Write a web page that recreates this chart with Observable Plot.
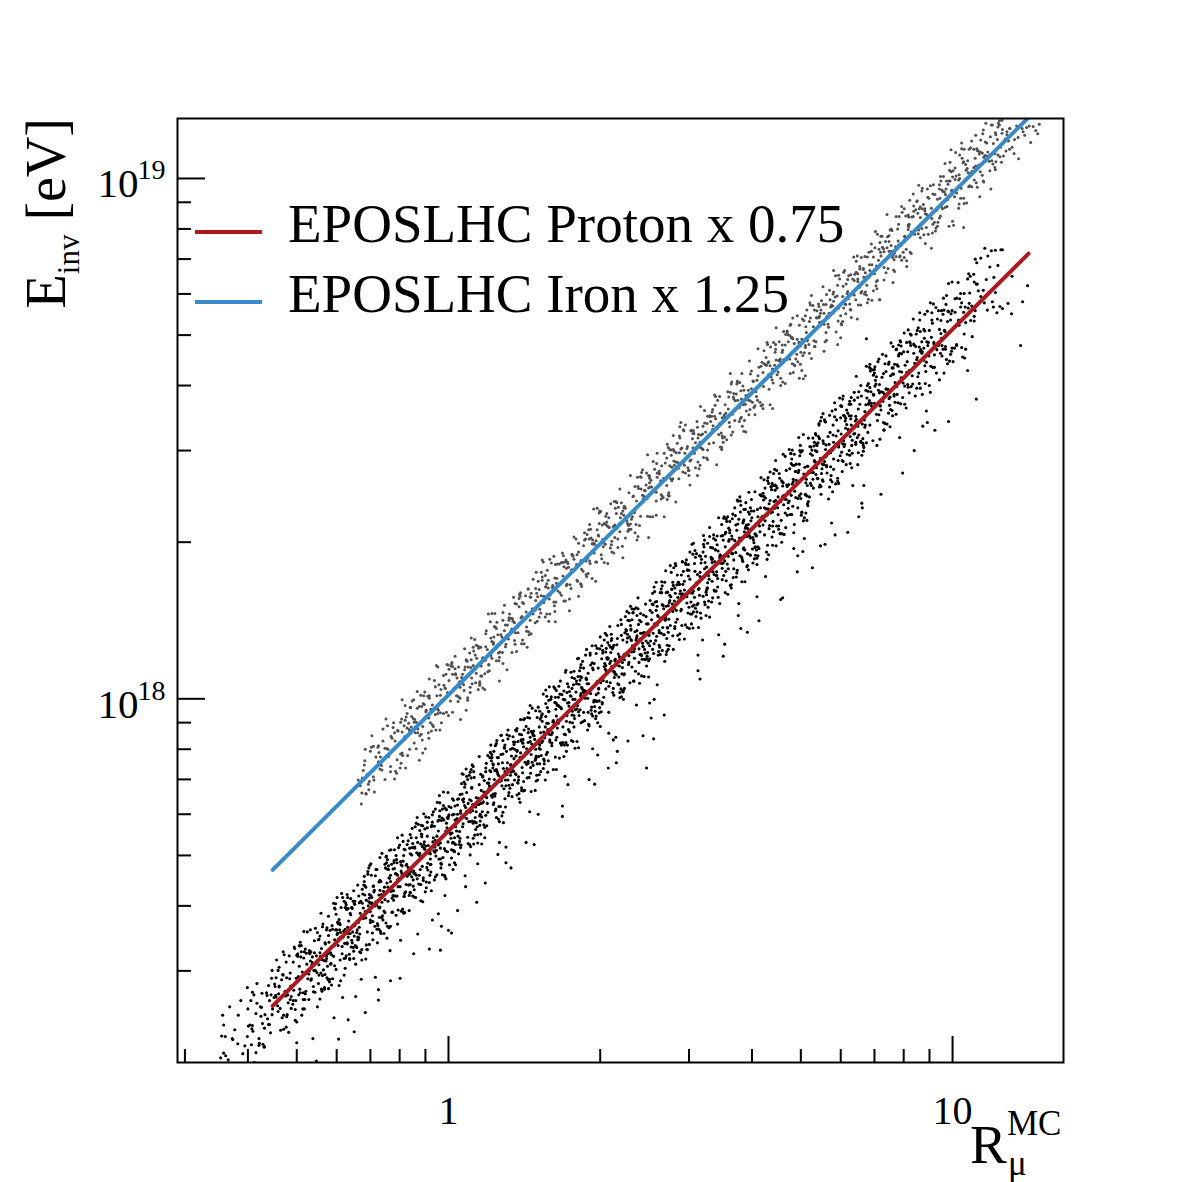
<!DOCTYPE html>
<html><head><meta charset="utf-8">
<script src="https://cdn.jsdelivr.net/npm/d3@7"></script>
<script src="https://cdn.jsdelivr.net/npm/@observablehq/plot@0.6"></script>
<style>
html,body{margin:0;padding:0;background:#fff;}
#chart{position:relative;width:1182px;height:1182px;}
</style></head><body><div id="chart"></div>
<script>
// axis ranges and ticks
const xDomain = [0.29, 16.6];
const yDomain = [2e17, 1.304e19];
const xMajorTicks = [1, 10];
const xMinorTicks = [0.3, 0.4, 0.5, 0.6, 0.7, 0.8, 0.9, 2, 3, 4, 5, 6, 7, 8, 9];
const yMajorTicks = [1e18, 1e19];
const yMinorTicks = [3e17, 4e17, 5e17, 6e17, 7e17, 8e17, 9e17, 2e18, 3e18, 4e18, 5e18, 6e18, 7e18, 8e18, 9e18];

// fitted lines (R_mu^MC, E_inv [eV])
const lineR = [0.448, 14.15];
const protonLineE = [2.57e17, 7.17e18];
const ironLineE = [4.69e17, 1.31e19];
const seriesNames = ["EPOSLHC Proton x 0.75", "EPOSLHC Iron x 1.25"];
const seriesColors = ["#aa1a1e", "#3a8ac8"];

// scatter points: [1000*log10(R), 1000*log10(E / 1e18 eV)]
const protonPoints = [
[-452,-690],[-448,-608],
[-428,-655],[-408,-682],[-446,-681],[-417,-608],[-437,-694],[-424,-636],[-442,-686],[-412,-580],
[-371,-593],[-399,-649],[-380,-585],[-365,-633],[-389,-628],[-351,-537],[-376,-666],[-394,-627],[-369,-624],[-360,-570],[-385,-699],[-398,-596],[-364,-607],[-373,-592],[-391,-665],[-355,-580],[-382,-680],
[-316,-494],[-338,-601],[-302,-537],[-327,-635],[-345,-548],[-311,-553],[-320,-607],[-336,-552],[-307,-560],[-328,-486],[-308,-580],[-346,-574],[-337,-567],[-303,-580],[-324,-562],[-342,-536],[-312,-572],[-333,-637],[-321,-536],[-349,-596],[-306,-477],[-330,-613],[-315,-538],[-339,-590],[-301,-661],
[-276,-484],[-294,-565],[-269,-511],[-260,-449],[-285,-578],[-298,-534],[-264,-522],[-273,-486],[-291,-608],[-255,-456],[-282,-528],[-266,-488],[-288,-565],[-252,-480],[-277,-578],[-295,-475],[-261,-526],[-270,-507],[-286,-596],[-257,-462],[-278,-522],[-258,-547],[-296,-514],[-267,-522],[-287,-447],[-253,-527],[-274,-504],[-262,-494],[-283,-562],[-271,-511],[-299,-495],
[-206,-470],[-230,-538],[-215,-434],[-239,-490],[-201,-376],[-226,-513],[-244,-471],[-219,-474],[-210,-574],[-235,-445],[-248,-521],[-214,-458],[-223,-414],[-241,-536],[-205,-443],[-232,-492],[-216,-431],[-238,-557],[-202,-405],[-227,-475],[-245,-469],[-211,-490],[-220,-450],[-236,-539],[-207,-389],[-228,-495],[-208,-447],[-246,-558],[-217,-424],[-237,-483],[-203,-494],[-224,-444],[-242,-499],[-212,-374],[-233,-509],[-221,-453],
[-199,-617],[-156,-392],[-180,-463],[-165,-409],[-189,-389],[-151,-417],[-176,-486],[-194,-415],[-169,-422],[-160,-337],[-185,-474],[-198,-427],[-164,-421],[-173,-539],[-191,-403],[-155,-430],[-182,-428],[-166,-359],[-188,-485],[-152,-392],[-177,-439],[-195,-412],[-161,-482],[-170,-375],[-186,-436],[-157,-383],[-178,-459],[-158,-390],[-196,-501],[-167,-351],[-187,-456],[-153,-394],[-174,-488],[-192,-401],[-162,-410],[-183,-476],[-171,-393],[-199,-458],[-156,-320],[-180,-458],
[-115,-351],[-139,-559],[-101,-339],[-126,-411],[-144,-390],[-119,-321],[-110,-378],[-135,-447],[-148,-371],[-114,-369],[-123,-302],[-141,-432],[-105,-336],[-132,-391],[-116,-484],[-138,-352],[-102,-379],[-127,-375],[-145,-340],[-111,-410],[-120,-362],[-136,-400],[-107,-326],[-128,-451],[-108,-315],[-146,-398],[-117,-345],[-137,-420],[-103,-337],[-124,-431],[-142,-328],[-112,-383],[-133,-376],[-121,-437],[-149,-360],[-106,-356],[-130,-425],[-115,-339],[-139,-400],[-101,-267],
[-76,-357],[-94,-331],[-69,-490],[-60,-299],[-85,-371],[-98,-345],[-64,-267],[-73,-342],[-91,-404],[-55,-279],[-82,-338],[-66,-246],[-88,-380],[-52,-284],[-77,-337],[-95,-464],[-61,-276],[-70,-348],[-86,-335],[-57,-253],[-78,-378],[-58,-301],[-96,-361],[-67,-287],[-87,-411],[-53,-261],[-74,-327],[-92,-321],[-62,-346],[-83,-318],[-71,-379],[-99,-286],[-56,-328],[-80,-324],[-65,-382],[-89,-301],[-51,-302],[-76,-372],[-94,-319],[-69,-331],
[-10,-179],[-35,-318],[-48,-287],[-14,-437],[-23,-264],[-41,-329],[-5,-254],[-32,-237],[-16,-287],[-38,-353],[-2,-228],[-27,-285],[-45,-227],[-11,-305],[-20,-254],[-36,-298],[-7,-378],[-28,-245],[-8,-288],[-46,-297],[-17,-215],[-37,-339],[-3,-248],[-24,-291],[-42,-264],[-12,-338],[-33,-243],[-21,-276],[-49,-280],[-6,-292],[-30,-267],[-15,-325],[-39,-228],[-1,-275],[-26,-272],[-44,-363],[-19,-233],[-10,-263],[-35,-333],[-48,-275],
[36,-230],[27,-144],[9,-276],[45,-196],[18,-407],[34,-209],[12,-278],[48,-203],[23,-184],[5,-268],[39,-278],[30,-198],[14,-246],[43,-141],[22,-274],[42,-194],[4,-260],[33,-340],[13,-206],[47,-235],[26,-227],[8,-192],[38,-266],[17,-230],[29,-240],[1,-223],[44,-284],[20,-192],[35,-222],[11,-222],[49,-239],[24,-215],[6,-306],[31,-160],[40,-236],[15,-233],[2,-319],[36,-180],[27,-228],[9,-291],
[95,-136],[68,-200],[84,-89],[62,-225],[98,-145],[73,-354],[55,-190],[89,-203],[80,-173],[64,-145],[93,-182],[72,-247],[92,-138],[54,-208],[83,-103],[63,-235],[97,-141],[76,-190],[58,-317],[88,-133],[67,-217],[79,-176],[51,-151],[94,-212],[70,-179],[85,-186],[61,-165],[99,-231],[74,-140],[56,-203],[81,-154],[90,-200],[65,-176],[52,-262],[86,-107],[77,-201],[59,-191],[95,-228],[68,-150],[84,-173],
[112,-192],[148,-85],[123,-147],[105,-70],[139,-150],[130,-115],[114,-315],[143,-104],[122,-172],[142,-113],[104,-107],[133,-144],[113,-208],[147,-85],[126,-138],[108,-80],[138,-162],[117,-123],[129,-139],[101,-276],[144,-79],[120,-166],[135,-122],[111,-93],[149,-159],[124,-127],[106,-167],[131,-97],[140,-192],[115,-101],[102,-159],[136,-101],[127,-165],[109,-134],[145,-171],[118,-77],[134,-146],[112,-140],[148,-177],[123,-97],
[155,-105],[189,-116],[180,-54],[164,-107],[193,17],[172,-118],[192,-54],[154,-276],[183,-65],[163,-132],[197,-59],[176,-36],[158,-120],[188,-134],[167,-66],[179,-86],[151,-38],[194,-107],[170,-71],[185,-84],[161,-217],[199,-25],[174,-113],[156,-102],[181,-24],[190,-119],[165,-87],[152,-122],[186,-43],[177,-156],[159,-58],[195,-67],[168,-70],[184,-109],[162,-82],[198,-119],[173,-23],[155,-126],[189,-64],[180,-146],
[214,-9],[243,-19],[222,-85],[242,6],[204,-69],[233,55],[213,-79],[247,-1],[226,-206],[208,-42],[238,-59],[217,-41],[229,15],[201,-79],[244,-80],[220,-15],[235,-32],[211,20],[249,-54],[224,-19],[206,-65],[231,-149],[240,14],[215,-74],[202,-58],[236,29],[227,-84],[209,-45],[245,-31],[218,-13],[234,-101],[212,-7],[248,-16],[223,-17],[205,-90],[239,-7],[230,-89],[214,16],
[293,8],[272,15],[292,-38],[254,29],[283,19],[263,-46],[297,59],[276,1],[258,78],[288,-6],[267,17],[279,-155],[251,-1],[294,-5],[270,10],[285,69],[261,-21],[299,-27],[274,37],[256,-13],[281,88],[290,-15],[265,20],[252,-21],[286,-96],[277,49],[259,-32],[295,33],[268,59],[284,-29],[262,6],[298,20],[273,40],[255,-82],[289,68],[280,14],[264,22],[293,-4],
[322,72],[342,19],[304,102],[333,46],[313,54],[347,15],[326,99],[308,42],[338,27],[317,77],[329,52],[301,119],[344,48],[320,68],[335,-101],[311,57],[349,48],[324,62],[306,88],[331,47],[340,12],[315,76],[302,31],[336,141],[327,20],[309,62],[345,70],[318,-66],[334,104],[312,19],[348,84],[323,112],[305,-10],[339,81],[330,50],[314,79],[343,4],[322,99],
[392,123],[354,109],[383,83],[363,112],[397,73],[376,173],[358,70],[388,128],[367,34],[379,151],[351,84],[394,82],[370,129],[385,107],[361,178],[399,102],[374,121],[356,-81],[381,126],[390,88],[365,102],[352,133],[386,101],[377,48],[359,119],[395,123],[368,172],[384,76],[362,114],[398,122],[373,-12],[355,124],[389,95],[380,115],[364,152],[393,77],[372,113],[392,111],
[404,166],[433,91],[413,187],[447,176],[426,179],[408,106],[438,185],[417,91],[429,224],[401,111],[444,182],[420,85],[435,205],[411,142],[449,135],[424,181],[406,126],[431,246],[440,141],[415,160],[402,-37],[436,179],[427,123],[409,144],[445,224],[418,131],[434,103],[412,170],[448,174],[423,225],[405,95],[439,189],[430,152],[414,27],[443,210],[422,126],
[492,223],[454,238],[483,163],[463,200],[497,212],[476,236],[458,114],[488,260],[467,194],[479,230],[451,147],[494,239],[470,142],[485,278],[461,169],[499,235],[474,137],[456,224],[481,210],[490,174],[465,220],[452,170],[486,299],[477,176],[459,202],[495,54],[468,209],[484,178],[462,195],[498,275],[473,184],[455,122],[489,245],[480,204],[464,264],[493,181],
[522,268],[542,260],[504,113],[533,296],[513,213],[547,276],[526,308],[508,186],[538,273],[517,230],[529,287],[501,155],[544,314],[520,245],[535,284],[511,205],[549,292],[524,194],[506,297],[531,237],[540,274],[515,176],[502,268],[536,263],[527,209],[509,262],[545,261],[518,329],[534,231],[512,253],[548,105],[523,262],[505,197],[539,270],[530,305],[514,223],
[593,256],[572,324],[592,312],[554,350],[583,267],[563,307],[597,313],[576,183],[558,319],[588,286],[567,294],[579,359],[551,227],[594,327],[570,281],[585,341],[561,213],[599,367],[574,297],[556,303],[581,273],[590,331],[565,233],[552,341],[586,290],[577,309],[559,218],[595,359],[568,293],[584,264],[562,313],[598,312],[573,382],[555,250],[589,328],[580,135],
[614,350],[643,332],[622,350],[642,414],[604,310],[633,295],[613,364],[647,366],[626,421],[608,291],[638,381],[617,332],[629,235],[601,361],[644,341],[620,346],[635,414],[611,286],[649,381],[624,334],[606,361],[631,282],[640,407],[615,337],[602,348],[636,327],[627,367],[609,276],[645,433],[618,321],[634,365],[612,270],[648,411],[623,347],
[655,332],[689,437],[680,391],[664,470],[693,385],[672,408],[692,244],[654,388],[683,370],[663,389],[697,467],[676,380],[658,318],[688,437],[667,384],[679,472],[651,332],[694,435],[670,383],[685,289],[661,419],[699,394],[674,398],[656,433],[681,354],[690,420],[665,373],[652,405],[686,335],[677,442],[659,379],[695,439],[668,357],[684,422],
[712,375],[748,532],[723,422],[705,432],[739,393],[730,489],[714,434],[743,418],[722,468],[742,451],[704,508],[733,423],[713,447],[747,297],[726,458],[708,393],[738,462],[717,485],[729,431],[701,359],[744,491],[720,435],[735,526],[711,390],[749,488],[724,435],[706,308],[731,487],[740,433],[715,437],[702,477],[736,407],[727,455],[709,415],
[795,544],[768,413],[784,545],[762,478],[798,538],[773,458],[755,489],[789,450],[780,562],[764,461],[793,518],[772,424],[792,549],[754,472],[783,456],[763,507],[797,504],[776,578],[758,446],[788,520],[767,315],[779,509],[751,434],[794,516],[770,536],[785,485],[761,417],[799,544],[774,487],[756,545],[781,458],[790,527],
[815,532],[802,410],[836,598],[827,526],[809,537],[845,626],[818,495],[834,568],[812,524],[848,605],[823,476],[805,574],[839,563],[830,578],[814,507],[843,585],[822,491],[842,632],[804,509],[833,566],[813,473],[847,612],[826,552],[808,489],[838,590],[817,532],[829,639],[801,497],[844,584],[820,376],[835,573],[811,502],
[899,628],[874,647],[856,563],[881,544],[890,642],[865,585],[852,648],[886,570],[877,621],[859,575],[895,502],[868,629],[884,582],[862,589],[898,678],[873,549],[855,588],[889,600],[880,636],[864,516],[893,661],[872,595],[892,639],[854,546],[883,624],[863,531],[897,686],[876,580],[858,590],[888,547],
[917,679],[929,652],[901,579],[944,693],[920,632],[935,742],[911,604],[949,686],[924,477],[906,641],[931,619],[940,667],[915,686],[902,607],[936,597],[927,677],[909,627],[945,739],[918,600],[934,676],[912,626],[948,553],[923,682],[905,601],[939,664],[930,708],[914,588],[943,674],
[972,679],[992,744],[954,602],[983,747],[963,682],[997,740],[976,664],[958,695],[988,652],[967,752],[979,679],[951,679],[994,649],[970,730],[985,706],[961,637],[999,746],[974,684],[956,761],[981,672],[990,725],[965,516],[952,685],[986,672],[977,702],[959,728],
[1045,746],[1018,675],[1034,780],[1012,726],[1048,838],[1023,701],[1005,743],[1039,749],[1030,631],[1014,769],[1043,735],[1022,743],[1042,816],[1004,674],[1033,760],[1013,718],[1047,797],[1026,672],[1008,770],[1038,755],
[1067,806],[1079,763],[1051,784],[1094,754],[1070,851],[1085,781],[1061,785],[1099,750],[1074,830],[1056,773],[1081,753],[1090,833],
[1135,679],[1149,794],[1110,760],[1118,812],
[6,-450],[-16,-483],[-115,-542],[-187,-640],[393,-133],[317,-133],[407,-77],[738,294],[821,367],[663,194],[829,692],[992,533],[1117,740],[1139,763],[1085,862],
[-418,-663],[-443,-649],[-404,-667],[-429,-653],[-450,-648],
[-372,-610],[-359,-615],[-386,-569],[-376,-653],[-352,-569],[-390,-634],[-366,-669],[-397,-629],[-370,-566],[-357,-626],[-382,-605],[-388,-639],[-361,-565],[-375,-662],
[-345,-586],[-314,-527],[-334,-595],[-305,-480],[-327,-608],[-342,-573],[-319,-569],[-301,-493],[-323,-571],[-331,-540],[-318,-584],[-343,-570],[-304,-597],[-329,-530],[-313,-552],[-350,-607],[-322,-506],[-309,-587],[-336,-554],
[-276,-523],[-252,-558],[-290,-525],[-266,-465],[-297,-569],[-270,-496],[-257,-511],[-282,-489],[-288,-578],[-261,-504],[-275,-490],[-295,-558],[-264,-441],[-284,-567],[-255,-488],[-277,-529],[-292,-486],[-269,-653],[-251,-501],[-287,-498],[-273,-541],[-281,-510],[-268,-563],[-293,-496],[-254,-495],[-279,-538],
[-213,-401],[-250,-532],[-222,-444],[-209,-458],[-236,-544],[-226,-463],[-202,-403],[-240,-514],[-216,-444],[-247,-503],[-220,-429],[-207,-499],[-232,-477],[-238,-455],[-211,-476],[-225,-404],[-245,-530],[-214,-449],[-234,-488],[-205,-401],[-227,-613],[-242,-494],[-219,-432],[-201,-471],[-237,-468],[-223,-520],[-231,-436],[-218,-461],[-243,-504],[-204,-392],
[-179,-463],[-163,-387],[-200,-451],[-172,-482],[-159,-398],[-186,-389],[-176,-452],[-152,-382],[-190,-448],[-166,-377],[-197,-491],[-170,-417],[-157,-376],[-182,-449],[-188,-369],[-161,-448],[-175,-412],[-195,-451],[-164,-362],[-184,-572],[-155,-409],[-177,-392],[-192,-464],[-169,-402],[-151,-450],[-187,-394],[-173,-418],[-181,-444],[-168,-358],[-193,-477],[-154,-378],[-179,-430],[-163,-473],[-200,-439],
[-122,-327],[-109,-387],[-136,-368],[-126,-386],[-102,-315],[-140,-436],[-116,-365],[-147,-368],[-120,-389],[-107,-290],[-132,-421],[-138,-377],[-111,-369],[-125,-325],[-145,-535],[-114,-370],[-134,-351],[-105,-379],[-127,-362],[-142,-443],[-119,-328],[-101,-348],[-137,-402],[-123,-315],[-131,-417],[-118,-344],[-143,-396],[-104,-416],[-129,-370],[-113,-318],[-150,-428],[-122,-354],[-109,-369],[-136,-349],
[-76,-373],[-52,-302],[-90,-312],[-66,-336],[-97,-281],[-70,-360],[-57,-297],[-82,-341],[-88,-289],[-61,-452],[-75,-332],[-95,-313],[-64,-339],[-84,-320],[-55,-357],[-77,-287],[-92,-340],[-69,-335],[-51,-244],[-87,-374],[-73,-300],[-81,-335],[-68,-381],[-93,-335],[-54,-260],[-79,-358],[-63,-296],[-100,-361],[-72,-286],[-59,-356],[-86,-336],[-76,-298],[-52,-322],[-90,-274],
[-16,-308],[-47,-289],[-20,-281],[-7,-210],[-32,-425],[-38,-297],[-11,-231],[-25,-302],[-45,-283],[-14,-318],[-34,-246],[-5,-255],[-27,-295],[-42,-237],[-19,-308],[-1,-230],[-37,-293],[-23,-338],[-31,-275],[-18,-226],[-43,-324],[-4,-239],[-29,-292],[-13,-229],[-50,-349],[-22,-274],[-9,-233],[-36,-308],[-26,-212],[-2,-294],[-40,-282],[-16,-277],[-47,-250],[-20,-413],
[43,-218],[18,-204],[12,-267],[39,-201],[25,-281],[5,-209],[36,-216],[16,-254],[45,-152],[23,-268],[8,-223],[31,-227],[49,-268],[13,-233],[27,-183],[19,-264],[32,-205],[7,-258],[46,-172],[21,-280],[37,-217],[0,-226],[28,-246],[41,-147],[14,-280],[24,-220],[48,-215],[10,-195],[34,-361],[3,-258],[30,-192],[43,-236],[18,-222],[12,-294],
[89,-127],[75,-179],[55,-217],[86,-113],[66,-227],[95,-138],[73,-187],[58,-261],[81,-167],[99,-113],[63,-222],[77,-162],[69,-198],[82,-138],[57,-246],[96,-160],[71,-157],[87,-189],[50,-140],[78,-218],[91,-155],[64,-201],[74,-133],[98,-299],[60,-203],[84,-140],[53,-228],[80,-162],[93,-215],[68,-148],[62,-192],[89,-183],[75,-124],[55,-238],
[136,-99],[116,-146],[145,-176],[123,-127],[108,-106],[131,-156],[149,-92],[113,-156],[127,-95],[119,-186],[132,-126],[107,-123],[146,-132],[121,-71],[137,-161],[100,-148],[128,-139],[141,-68],[114,-285],[124,-141],[148,-78],[110,-173],[134,-110],[103,-207],[130,-88],[143,-113],[118,-156],[112,-89],[139,-156],[125,-110],[105,-157],[136,-185],[116,-134],[145,-69],
[173,-115],[158,-84],[181,-89],[199,-24],[163,-143],[177,-82],[169,-62],[182,-97],[157,-36],[196,-103],[171,-78],[187,-81],[150,-60],[178,-222],[191,-75],[164,-63],[174,-110],[198,-47],[160,-151],[184,-35],[153,-104],[180,-95],[193,-9],[168,-128],[162,-74],[189,-74],[175,-147],[155,-96],[186,-29],[166,-122],[195,-47],[173,-97],[158,-65],[181,-125],
[249,-12],[213,-20],[227,-54],[219,24],[232,-69],[207,-44],[246,-24],[221,9],[237,-165],[200,-68],[228,-1],[241,-45],[214,-33],[224,-89],[248,27],[210,-49],[234,-43],[203,-1],[230,-68],[243,5],[218,-47],[212,-112],[239,-14],[225,8],[205,-85],[236,-8],[216,-56],[245,20],[223,-85],[208,-53],[231,-2],[249,-32],
[263,66],[277,-26],[269,16],[282,10],[257,43],[296,-108],[271,1],[287,56],[250,-38],[278,29],[291,-24],[264,41],[274,13],[298,19],[260,54],[284,-16],[253,13],[280,13],[293,-33],[268,13],[262,43],[289,-3],[275,29],[255,-19],[286,59],[266,-44],[295,32],[273,38],[258,-25],[281,84],[299,-4],[263,10],
[327,53],[319,103],[332,-74],[307,35],[346,113],[321,31],[337,86],[300,-17],[328,103],[341,78],[314,33],[324,116],[348,46],[310,68],[334,65],[303,-25],[330,73],[343,122],[318,24],[312,64],[339,63],[325,96],[305,-7],[336,71],[316,79],[345,60],[323,124],[308,3],[331,76],[349,75],[313,97],[327,-79],
[369,96],[382,148],[357,66],[396,144],[371,53],[387,161],[350,86],[378,96],[391,182],[364,61],[374,131],[398,128],[360,31],[384,126],[353,131],[380,85],[393,144],[368,91],[362,132],[389,76],[375,109],[355,117],[386,100],[366,166],[395,89],[373,117],[358,83],[381,164],[399,-8],[363,90],[377,143],[369,78],
[432,178],[407,87],[446,218],[421,155],[437,153],[400,189],[428,123],[441,196],[414,142],[424,93],[448,188],[410,186],[434,137],[403,152],[430,151],[443,211],[418,103],[412,144],[439,199],[425,137],[405,203],[436,128],[416,158],[445,168],[423,204],[408,-1],[431,156],[449,213],[413,120],[427,173],[419,99],[432,204],
[457,189],[496,210],[471,258],[487,180],[450,203],[478,204],[491,158],[464,202],[474,248],[498,199],[460,207],[484,203],[453,219],[480,163],[493,223],[468,226],[462,172],[489,285],[475,165],[455,195],[486,207],[466,245],[495,84],[473,196],[458,220],[481,186],[499,243],[463,141],[477,247],[469,201],
[532,244],[507,292],[546,237],[521,272],[537,261],[500,165],[528,264],[541,313],[514,213],[524,269],[548,265],[510,274],[534,215],[503,231],[530,286],[543,251],[518,312],[512,200],[539,277],[525,244],[505,282],[536,123],[516,237],[545,305],[523,226],[508,250],[531,207],[549,317],[513,243],[527,239],
[569,352],[582,271],[557,306],[596,318],[571,234],[587,321],[550,320],[578,275],[591,334],[564,279],[574,336],[598,277],[560,286],[584,338],[553,259],[580,372],[593,279],[568,304],[562,279],[589,364],[575,160],[555,274],[586,344],[566,267],[595,335],[573,247],[558,324],[581,309],[599,309],[563,346],
[627,315],[619,367],[632,353],[607,269],[646,379],[621,390],[637,333],[600,342],[628,342],[641,402],[614,292],[624,349],[648,401],[610,315],[634,425],[603,288],[630,365],[643,359],[618,392],[612,196],[639,357],[625,382],[605,305],[636,375],[616,289],[645,410],[623,350],[608,317],
[681,461],[699,385],[663,409],[677,396],[669,329],[682,413],[657,424],[696,390],[671,411],[687,399],[650,409],[678,354],[691,414],[664,415],[674,377],[698,487],[660,343],[684,417],[653,367],[680,452],[693,275],[668,384],[662,417],[689,387],[675,412],[655,326],[686,449],[666,391],
[745,450],[723,501],[708,392],[731,475],[749,466],[713,371],[727,456],[719,484],[732,424],[707,445],[746,456],[721,478],[737,411],[700,421],[728,477],[741,442],[714,501],[724,405],[748,479],[710,422],[734,504],[703,283],[730,444],[743,496],[718,414],[712,447],[739,408],[725,486],
[755,476],[786,489],[766,542],[795,477],[773,515],[758,473],[781,437],[799,526],[763,526],[777,467],[769,505],[782,490],[757,512],[796,468],[771,490],[787,534],[750,449],[778,563],[791,470],[764,493],[774,484],[798,566],[760,338],[784,496],[753,504],[780,474],
[843,584],[818,493],[812,579],[839,568],[825,536],[805,589],[836,526],[816,566],[845,568],[823,487],[808,543],[831,602],[849,547],[813,557],[827,543],[819,582],[832,512],[807,534],[846,601],[821,528],[837,630],[800,487],[828,565],[841,559],[814,590],[824,410],
[898,617],[860,618],[884,585],[853,593],[880,554],[893,659],[868,596],[862,572],[889,672],[875,564],[855,604],[886,608],[866,529],[895,629],[873,643],[858,555],[881,624],[899,614],[863,625],[877,556],[869,595],[882,636],[857,563],[896,688],
[921,605],[937,671],[900,615],[928,701],[941,524],[914,631],[924,680],[948,647],[910,648],[934,606],[903,667],[930,656],[943,651],[918,699],[912,599],[939,686],[925,645],[905,566],[936,668],[916,684],[945,640],[923,664],
[958,669],[981,739],[999,674],[963,685],[977,727],[969,671],[982,770],[957,639],[996,728],[971,684],[987,758],[950,531],[978,693],[991,745],[964,661],[974,710],[998,668],[960,722],[984,708],[953,659],
[1030,807],[1043,726],[1018,761],[1012,728],[1039,696],[1025,753],[1005,769],[1036,727],[1016,753],[1045,754],[1023,779],[1008,681],[1031,751],[1049,797],
[1063,761],[1077,861],[1069,747],[1082,810],[1057,766],[1096,863],
[-446,-627],[-434,-592],
[-353,-642],[-389,-564],[-357,-551],[-399,-555],[-365,-669],[-380,-547],[-355,-626],[-392,-580],[-368,-664],
[-326,-492],[-301,-621],[-336,-516],[-312,-595],[-344,-553],[-322,-631],[-308,-506],[-350,-522],[-314,-578],[-328,-531],[-304,-618],[-338,-522],[-317,-641],[-341,-502],[-321,-611],
[-296,-474],[-260,-592],[-284,-481],[-253,-412],[-289,-596],[-274,-444],[-257,-531],[-299,-490],[-265,-564],[-280,-448],[-255,-577],[-292,-474],[-268,-553],[-276,-487],[-251,-562],[-286,-486],[-262,-696],[-294,-468],[-272,-538],[-258,-463],
[-232,-550],[-250,-438],[-214,-542],[-228,-393],[-204,-498],[-238,-418],[-217,-551],[-241,-440],[-221,-382],[-246,-555],[-210,-382],[-234,-510],[-203,-396],[-239,-540],[-224,-394],[-207,-531],[-249,-433],[-215,-502],[-230,-443],[-205,-518],[-242,-444],[-218,-654],[-226,-402],[-201,-469],
[-186,-395],[-162,-482],[-194,-384],[-172,-502],[-158,-325],[-182,-478],[-200,-382],[-164,-500],[-178,-379],[-154,-317],[-188,-499],[-167,-341],[-191,-469],[-171,-366],[-196,-499],[-160,-332],[-184,-510],[-153,-339],[-189,-478],[-174,-389],[-157,-472],[-199,-403],[-165,-603],[-180,-358],[-155,-425],[-192,-401],
[-118,-440],[-126,-318],[-101,-433],[-136,-305],[-112,-410],[-144,-328],[-122,-460],[-108,-311],[-132,-297],[-150,-463],[-114,-290],[-128,-408],[-104,-301],[-138,-443],[-117,-291],[-141,-469],[-121,-309],[-146,-437],[-110,-327],[-134,-451],[-103,-309],[-139,-579],[-124,-304],[-107,-379],[-149,-360],[-115,-437],
[-80,-273],[-55,-388],[-92,-262],[-68,-367],[-76,-261],[-51,-390],[-86,-290],[-62,-228],[-94,-408],[-72,-249],[-58,-339],[-82,-280],[-100,-406],[-64,-239],[-78,-407],[-54,-243],[-88,-380],[-67,-285],[-91,-409],[-71,-278],[-96,-537],[-60,-241],[-84,-357],[-53,-265],[-89,-412],[-74,-267],
[-7,-342],[-49,-221],[-15,-316],[-30,-217],[-5,-346],[-42,-248],[-18,-186],[-26,-342],[-1,-180],[-36,-319],[-12,-212],[-44,-352],[-22,-199],[-8,-339],[-32,-223],[-50,-344],[-14,-234],[-28,-348],[-4,-213],[-38,-481],[-17,-200],[-41,-316],[-21,-235],[-46,-371],[-10,-205],[-34,-369],
[47,-127],[11,-292],[26,-163],[43,-300],[1,-207],[35,-135],[20,-298],[45,-136],[8,-277],[32,-170],[24,-286],[49,-130],[14,-319],[38,-155],[6,-290],[28,-194],[42,-280],[18,-193],[0,-445],[36,-149],[22,-255],[46,-170],[12,-315],[33,-164],[9,-328],[29,-145],
[54,-251],[90,-101],[66,-279],[97,-113],[61,-111],[76,-244],[93,-90],[51,-236],[85,-119],[70,-242],[95,-86],[58,-277],[82,-113],[74,-224],[99,-125],[64,-260],[88,-125],[56,-391],[78,-109],[92,-187],[68,-150],[50,-279],[86,-113],[72,-267],[96,-80],[62,-243],
[133,-60],[109,-238],[129,-83],[104,-70],[140,-182],[116,-69],[147,-142],[111,-95],[126,-188],[143,-40],[101,-236],[135,-62],[120,-180],[145,-81],[108,-218],[132,-83],[124,-325],[149,-40],[114,-167],[138,-82],[106,-225],[128,-73],[142,-199],[118,-60],[100,-207],[136,-57],
[172,-176],[196,-17],[162,-13],[183,-140],[159,-27],[179,-111],[154,-53],[190,-125],[166,-18],[197,-141],[161,-37],[176,-125],[193,-34],[151,-176],[185,-31],[170,-280],[195,5],[158,-124],[182,-39],[174,-158],[199,-3],[164,-178],[188,9],[156,-152],[178,-16],[192,-156],
[218,3],[200,23],[236,-89],[222,34],[246,-46],[212,3],[233,-84],[209,23],[229,-111],[204,4],[240,-63],[216,-13],[247,-82],[211,-7],[226,-226],[243,51],[201,-83],[235,12],[220,-114],[245,41],[208,-136],[232,51],[224,-86],[249,53],[214,-136],[238,23],
[256,77],[278,-49],[292,102],[268,-26],[250,39],[286,-33],[272,84],[296,-46],[262,60],[283,-22],[259,28],[279,-52],[254,34],[290,-164],[266,72],[297,11],[261,36],[276,-60],[293,87],[251,-95],[285,102],[270,-42],[295,97],[258,-94],[282,65],[274,95],
[349,20],[314,122],[338,42],[306,93],[328,7],[342,152],[318,-26],[300,96],[336,29],[322,89],[346,13],[312,90],[333,-123],[309,113],[329,41],[304,77],[340,2],[316,108],[347,-1],[311,126],[326,12],[343,143],[301,-53],[335,116],[320,139],[345,16],
[358,165],[382,85],[374,160],[399,77],[364,173],[388,43],[356,151],[378,70],[392,158],[368,34],[350,127],[386,-71],[372,175],[396,107],[362,134],[383,44],[359,150],[379,30],[354,168],[390,75],[366,165],[397,42],[361,141],[376,194],[393,63],[351,158],
[435,136],[420,204],[445,121],[408,215],[432,85],[424,217],[449,139],[414,178],[438,102],[406,181],[428,-31],[442,243],[418,127],[400,170],[436,95],[422,211],[446,95],[412,224],[433,116],[409,206],[429,72],[404,182],[440,256],[416,84],[447,252],[411,112],
[476,258],[493,167],[451,256],[485,136],[470,261],[495,183],[458,220],[482,144],[474,247],[499,38],[464,263],[488,195],[456,224],[478,135],[492,279],[468,115],[450,260],[486,167],[472,267],[496,137],[462,238],[483,297],[459,125],[479,282],[454,153],[490,272],
[516,188],[547,350],[511,160],[526,315],[543,229],[501,261],[535,195],[520,291],[545,82],[508,305],[532,237],[524,290],[549,204],[514,299],[538,183],[506,314],[528,207],[542,335],[518,157],[500,274],[536,348],[522,186],[546,347],[512,209],[533,313],[509,181],
[579,380],[554,201],[590,377],[566,250],[597,355],[561,219],[576,345],[593,128],[551,346],[585,288],[570,334],[595,248],[558,341],[582,225],[574,380],[599,276],[564,355],[588,225],[556,328],[578,388],[592,254],[568,367],[550,245],[586,364],[572,242],[596,397],
[612,258],[633,419],[609,292],[629,386],[604,261],[640,408],[616,150],[647,441],[611,313],[626,389],[643,295],[601,383],[635,277],[620,425],[645,321],[608,398],[632,268],[624,395],[649,458],[614,275],[638,436],[606,300],[628,405],[642,311],
[668,466],[650,294],[686,470],[672,353],[696,451],[662,317],[683,449],[659,191],[679,471],[654,354],[690,451],[666,316],[697,477],[661,301],[676,479],[693,367],[651,439],[685,319],[670,439],[695,502],[658,317],[682,478],[674,366],[699,474],
[714,379],[738,534],[706,348],[728,510],[742,421],[718,471],[700,353],[736,500],[722,252],[746,536],[712,410],[733,492],[709,357],[729,507],[704,342],[740,541],[716,388],[747,533],[711,343],[726,493],[743,548],[701,358],[735,529],[720,410],
[795,566],[758,421],[782,576],[774,414],[799,579],[764,441],[788,539],[756,407],[778,540],[792,320],[768,556],[750,446],[786,543],[772,418],[796,572],[762,398],[783,582],[759,429],[779,563],[754,384],[790,555],[766,569],[797,452],[761,553],
[826,522],[843,622],[801,472],[835,637],[820,468],[845,633],[808,493],[832,591],[824,483],[849,619],[814,350],[838,634],[806,510],[828,593],[842,496],[818,602],[800,444],[836,643],[822,500],[846,638],[812,450],[833,606],[809,620],[829,492],
[854,653],[890,585],[866,644],[897,567],[861,662],[876,523],[893,680],[851,535],[885,643],[870,528],[895,664],[858,393],[882,677],[874,577],[899,663],[864,517],[888,671],[856,499],[878,684],[892,569],[868,659],[850,487],
[936,706],[922,730],[946,606],[912,709],[933,626],[909,685],[929,597],[904,703],[940,585],[916,701],[947,629],[911,667],[926,582],[943,710],[901,434],[935,728],[920,621],[945,707],[908,559],[932,713],
[974,613],[999,801],[964,637],[988,775],[956,589],[978,746],[992,798],[968,626],[950,745],[986,677],[972,746],[996,662],[962,759],[983,626],[959,742],[979,659],[954,708],[990,644],
[1016,779],[1047,576],[1011,800],[1026,723],[1043,801],[1001,648],[1035,812],[1020,657],[1045,845],[1008,679],[1032,817],[1024,655],
[1099,863],[1064,866],[1088,742],[1056,847]
];

const ironPoints = [
[-179,-156],[-172,-181],[-166,-119],[-161,-145],[-157,-159],[-153,-93],[-169,-138],[-164,-182],
[-112,-76],[-133,-128],[-121,-52],[-149,-150],[-106,-81],[-130,-81],[-115,-130],[-139,-121],[-101,-61],[-126,-155],[-144,-112],[-119,-111],[-110,-55],[-135,-112],[-148,-156],[-114,-72],
[-73,-63],[-91,-109],[-55,7],[-82,-56],[-66,-65],[-88,-52],[-52,-79],[-77,-62],[-95,-45],[-61,-65],[-70,-38],[-86,-13],[-57,-71],[-78,-59],[-58,-15],[-96,-133],[-67,-40],[-87,-78],[-53,-15],[-74,-54],[-92,-104],[-62,-18],
[-33,-22],[-21,-28],[-49,6],[-6,20],[-30,-53],[-15,18],[-39,-37],[-1,65],[-26,-30],[-44,-22],[-19,27],[-10,-28],[-35,-20],[-48,-11],[-14,-46],[-23,6],[-41,-36],[-5,47],[-32,-12],[-16,-27],[-38,1],[-2,6],
[23,1],[5,63],[39,61],[30,27],[14,46],[43,12],[22,33],[42,88],[4,-4],[33,61],[13,82],[47,29],[26,41],[8,47],[38,-3],[17,40],[29,34],[1,35],[44,60],[20,4],[35,75],[11,20],
[99,88],[74,125],[56,78],[81,54],[90,119],[65,63],[52,114],[86,78],[77,95],[59,101],[95,73],[68,79],[84,117],[62,26],[98,123],[73,74],[55,103],[89,105],[80,65],[64,99],[93,97],[72,48],
[142,197],[104,123],[133,127],[113,142],[147,113],[126,134],[108,151],[138,127],[117,142],[129,195],[101,80],[144,156],[120,156],[135,91],[111,131],[149,151],[124,155],[106,119],[131,112],[140,177],[115,121],[102,90],
[186,234],[177,196],[159,129],[195,221],[168,163],[184,243],[162,151],[198,213],[173,212],[155,130],[189,197],[180,210],[164,125],[193,215],[172,170],[192,237],[154,167],[183,165],[163,195],[197,198],[176,149],[158,211],
[238,253],[217,207],[229,254],[201,163],[244,248],[220,259],[235,220],[211,232],[249,311],[224,199],[206,214],[231,263],[240,192],[215,231],[202,200],[236,263],[227,236],[209,186],[245,278],[218,220],[234,218],[212,258],
[298,313],[273,239],[255,277],[289,280],[280,335],[264,249],[293,304],[272,307],[292,263],[254,258],[283,309],[263,220],[297,315],[276,270],[258,299],[288,297],[267,245],[279,307],[251,248],[294,263],[270,319],[285,298],
[311,297],[349,370],[324,282],[306,306],[331,366],[340,321],[315,332],[302,360],[336,307],[327,331],[309,337],[345,293],[318,330],[334,328],[312,335],[348,353],[323,296],[305,334],[339,337],[330,310],[314,356],[343,356],
[372,335],[392,411],[354,342],[383,435],[363,345],[397,405],[376,408],[358,326],[388,389],[367,390],[379,333],[351,366],[394,385],[370,408],[385,391],[361,336],[399,424],[374,368],[356,322],[381,427],[390,400],[365,350],
[402,420],[436,391],[427,424],[409,441],[445,423],[418,432],[434,489],[412,380],[448,449],[423,448],[405,350],[439,448],[430,421],[414,434],[443,445],[422,392],[442,468],[404,399],[433,410],[413,452],[447,457],[426,387],
[458,473],[488,472],[467,515],[479,457],[451,455],[494,522],[470,434],[485,482],[461,480],[499,449],[474,485],[456,443],[481,515],[490,492],[465,436],[452,473],[486,476],[477,439],[459,501],[495,501],[468,449],[484,500],
[512,463],[548,541],[523,551],[505,479],[539,549],[530,581],[514,478],[543,540],[522,543],[542,483],[504,509],[533,520],[513,529],[547,545],[526,492],[508,530],[538,529],[517,490],[529,564],[501,507],[544,501],[520,533],
[585,565],[561,605],[599,573],[574,574],[556,580],[581,541],[590,583],[565,580],[552,498],[586,593],[577,560],[559,589],[595,593],[568,535],[584,601],[562,548],[598,556],[573,611],[555,557],[589,566],[580,592],[564,513],
[643,633],[622,647],[642,613],[604,611],[633,681],[613,574],[647,641],[626,644],[608,546],[638,640],[617,601],[629,642],[601,596],[644,607],[620,639],[635,623],[611,581],[649,681],[624,627],[606,560],[631,641],[640,619],
[665,706],[652,623],[686,683],[677,698],[659,616],[695,685],[668,680],[684,627],[662,666],[698,678],[673,700],[655,650],[689,653],[680,694],[664,647],[693,648],[672,707],[692,691],[654,628],[683,692],[663,609],[697,685],
[726,747],[708,675],[738,741],[717,761],[729,686],[701,691],[744,758],[720,654],[735,733],[711,691],[749,758],[724,715],[706,665],[731,746],[740,724],[715,681],[702,730],[736,735],[727,677],[709,715],[745,720],[718,757],
[784,751],[762,755],[798,815],[773,726],[755,741],[789,797],[780,719],[764,764],[793,769],[772,795],[792,783],[754,714],[783,793],[763,742],[797,748],[776,807],[758,753],[788,758],[767,772],[779,721],[751,735],[794,813],
[820,783],[835,834],[811,851],[849,802],[824,810],[806,816],[831,761],[840,834],[815,791],[802,807],[836,823],[827,782],[809,820],[845,825],[818,780],[834,858],[812,807],[848,794],[823,825],[805,776],[839,874],[830,795],
[864,859],[893,912],[872,827],[892,880],[854,864],[883,824],[863,865],[897,875],[876,901],[858,851],[888,850],[867,879],[879,860],[851,804],[894,927],[870,867],[885,857],[861,868],[899,843],[874,860],[856,877],[881,848],
[940,942],[915,958],[902,858],[936,925],[927,940],[909,842],[945,942],[918,897],[934,942],[912,902],[948,906],[923,937],[905,888],[939,904],[930,957],[914,912],[943,892],[922,927],[942,916],[904,942],[933,901],[913,907],
[997,1013],[976,928],[958,943],[988,995],[967,905],[979,978],[951,926],[994,1016],[970,960],[985,944],[961,970],[999,977],[974,924],[956,986],[981,975],[990,959],[965,969],[952,893],[986,969],[977,995],[959,923],[995,995],
[1018,1057],[1034,986],[1012,997],[1048,1057],[1023,952],[1005,998],[1039,1014],[1030,1034],[1014,1000],[1043,997],[1022,1032],[1042,1021],[1004,965],[1033,1056],[1013,1007],[1047,992],[1026,1027],[1008,978],[1038,1072],[1017,981],[1029,1019],[1001,1015],
[1094,1042],[1070,1051],[1085,1088],[1061,995],[1099,1094],[1074,1045],[1056,1074],[1081,1067],[1090,1045],[1065,1070],[1052,1026],[1086,1032],[1077,1103],[1059,1049],[1095,1060],[1068,1068],[1084,1021],[1062,1041],[1098,1112],[1073,1033],[1055,1051],
[1130,1079],[1114,1096],[1122,1048],[1104,1076],[1113,1096],[1147,1098],[1108,1084],[1138,1096],[1101,1043],[1120,1087],[1111,1072],[1106,1053],
[1169,1086],[1165,1092],[1155,1069],[1160,1100],[1172,1104],
[-85,-133],[397,310],[494,429],[1022,906],[1002,910],[855,767],[708,621],
[-175,-167],[-167,-127],[-159,-164],[-155,-101],[-171,-152],[-163,-183],
[-122,-96],[-109,-46],[-136,-135],[-126,-95],[-102,-117],[-140,-93],[-116,-104],[-147,-179],[-120,-97],[-107,-65],[-132,-137],[-138,-103],
[-61,-58],[-75,-17],[-95,-106],[-64,-45],[-84,-35],[-55,-47],[-77,-97],[-92,-64],[-69,-2],[-51,-53],[-87,-73],[-73,-34],[-81,-109],[-68,-45],[-93,-39],[-54,-68],[-79,-47],
[-13,-3],[-50,-9],[-22,-19],[-9,26],[-36,-46],[-26,23],[-2,12],[-40,-65],[-16,7],[-47,13],[-20,-22],[-7,21],[-32,-50],[-38,6],[-11,-2],[-25,-60],[-45,-25],
[36,73],[16,6],[45,75],[23,22],[8,62],[31,16],[49,64],[13,58],[27,31],[19,-5],[32,56],[7,70],[46,40],[21,31],[37,72],[0,-32],[28,47],
[91,139],[64,44],[74,100],[98,104],[60,97],[84,83],[53,84],[80,66],[93,138],[68,78],[62,33],[89,108],[75,131],[55,49],[86,110],[66,44],[95,135],
[123,127],[108,68],[131,146],[149,183],[113,100],[127,154],[119,115],[132,183],[107,89],[146,158],[121,163],[137,138],[100,73],[128,149],[141,201],[114,105],[124,131],
[198,228],[160,123],[184,198],[153,198],[180,157],[193,216],[168,171],[162,196],[189,185],[175,203],[155,138],[186,228],[166,173],[195,163],[173,189],[158,211],[181,172],
[249,268],[213,186],[227,262],[219,219],[232,188],[207,218],[246,276],[221,204],[237,260],[200,192],[228,275],[241,219],[214,222],[224,262],[248,245],[210,179],[234,251],
[253,307],[280,265],[293,294],[268,294],[262,221],[289,299],[275,316],[255,228],[286,305],[266,265],[295,325],[273,265],[258,282],[281,260],[299,337],[263,266],[277,241],
[319,329],[332,379],[307,292],[346,361],[321,290],[337,368],[300,296],[328,280],[341,348],[314,340],[324,303],[348,367],[310,298],[334,377],[303,277],[330,334],[343,377],
[368,360],[362,326],[389,401],[375,426],[355,337],[386,384],[366,389],[395,351],[373,380],[358,396],[381,351],[399,415],[363,359],[377,404],[369,358],[382,403],[357,333],
[446,479],[421,419],[437,396],[400,407],[428,472],[441,423],[414,426],[424,390],[448,476],[410,403],[434,383],[403,407],[430,453],[443,419],[418,434],[412,397],[439,479],
[475,444],[455,454],[486,515],[466,454],[495,455],[473,481],[458,505],[481,459],[499,493],[463,482],[477,429],[469,472],[482,516],[457,423],[496,508],[471,463],[487,510],
[500,483],[528,543],[541,511],[514,543],[524,518],[548,503],[510,513],[534,574],[503,481],[530,538],[543,505],[518,542],[512,501],[539,484],[525,525],[505,524],[536,508],
[566,576],[595,574],[573,607],[558,523],[581,576],[599,624],[563,547],[577,533],[569,573],[582,625],[557,531],[596,586],[571,586],[587,535],[550,549],[578,608],[591,553],
[614,621],[624,611],[648,666],[610,590],[634,646],[603,570],[630,656],[643,634],[618,570],[612,612],[639,676],[625,600],[605,610],[636,595],[616,637],[645,631],[623,565],
[658,653],[681,695],[699,666],[663,670],[677,653],[669,700],[682,644],[657,649],[696,718],[671,652],[687,640],[650,651],[678,718],[691,662],[664,651],[674,686],[698,643],
[710,704],[734,759],[703,660],[730,733],[743,726],[718,732],[712,688],[739,747],[725,688],[705,727],[736,723],[716,664],[745,741],[723,756],[708,679],[731,732],[749,704],
[763,778],[777,757],[769,705],[782,773],[757,767],[796,759],[771,774],[787,759],[750,777],[778,736],[791,779],[764,782],[774,751],[798,747],[760,757],[784,820],[753,720],
[830,811],[843,849],[818,757],[812,802],[839,860],[825,778],[805,804],[836,815],[816,826],[845,817],[823,827],[808,767],[831,849],[849,832],[813,757],[827,819],[819,848],
[882,853],[857,858],[896,851],[871,888],[887,869],[850,788],[878,871],[891,903],[864,829],[874,879],[898,872],[860,889],[884,844],[853,843],[880,900],[893,872],[868,819],
[912,910],[939,976],[925,893],[905,889],[936,945],[916,858],[945,938],[923,947],[908,864],[931,933],[949,931],[913,926],[927,902],[919,926],[932,894],[907,928],[946,932],
[971,916],[987,980],[950,980],[978,946],[991,989],[964,916],[974,988],[998,977],[960,895],[984,974],[953,962],[980,942],[993,995],[968,939],[962,988],[989,946],[975,962],
[1005,1020],[1036,1010],[1016,962],[1045,1039],[1023,1056],[1008,972],[1031,1011],[1049,1054],[1013,951],[1027,1016],[1019,1039],[1032,984],[1007,1005],[1046,1024],[1021,1030],[1037,1008],[1000,1003],
[1078,1034],[1091,1106],[1064,1044],[1074,1015],[1098,1087],[1060,1086],[1084,1048],[1053,1047],[1080,1028],[1093,1103],[1068,1043],[1062,993],[1089,1075],[1075,1080],[1055,1013],[1086,1084],[1066,1033],
[1123,1075],[1108,1090],[1113,1056],[1140,1090],[1152,1101],
[-173,-202],[-165,-97],[-158,-175],[-152,-71],
[-103,-143],[-139,-90],[-124,-39],[-107,-154],[-149,-91],[-115,-140],[-130,-58],[-105,-139],
[-92,-2],[-68,-85],[-76,-16],[-51,-104],[-86,-41],[-62,14],[-94,-124],[-72,-4],[-58,-118],[-82,-28],[-100,-62],[-64,-96],
[-28,35],[-4,-26],[-38,38],[-17,-60],[-41,5],[-21,61],[-46,-96],[-10,45],[-34,-62],[-3,66],[-39,-76],[-24,64],
[43,22],[1,57],[35,-22],[20,61],[45,117],[8,-26],[32,96],[24,-40],[49,99],[14,48],[38,2],[6,67],
[78,52],[92,164],[68,21],[50,92],[86,164],[72,18],[96,147],[62,30],[83,148],[59,18],[79,163],[54,31],
[140,193],[116,56],[147,185],[111,180],[126,89],[143,204],[101,34],[135,182],[120,151],[145,106],[108,166],[132,105],
[174,243],[199,149],[164,203],[188,263],[156,99],[178,226],[192,157],[168,230],[150,106],[186,267],[172,146],[196,247],
[212,148],[233,267],[209,274],[229,188],[204,261],[240,169],[216,259],[247,274],[211,168],[226,280],[243,212],[201,268],
[285,231],[270,305],[295,366],[258,197],[282,326],[274,235],[299,357],[264,216],[288,365],[256,226],[278,325],[292,226],
[318,348],[300,361],[336,291],[322,375],[346,271],[312,351],[333,356],[309,262],[329,379],[304,269],[340,403],[316,260],
[397,429],[361,429],[376,312],[393,434],[351,309],[385,440],[370,319],[395,469],[358,325],[382,426],[374,305],[399,428],
[414,472],[438,390],[406,456],[428,350],[442,478],[418,438],[400,350],[436,483],[422,384],[446,506],[412,353],[433,463],
[459,523],[479,411],[454,491],[490,444],[466,517],[497,442],[461,531],[476,439],[493,533],[451,378],[485,510],[470,526],
[545,493],[508,554],[532,450],[524,556],[549,565],[514,460],[538,581],[506,464],[528,584],[542,479],[518,544],[500,562],
[586,514],[572,605],[596,546],[562,609],[583,524],[559,625],[579,538],[554,590],[590,513],[566,587],[597,649],[561,507],
[626,669],[643,558],[601,630],[635,648],[620,563],[645,685],[608,563],[632,685],[624,558],[649,672],[614,673],[638,565],
[656,686],[678,625],[692,736],[668,606],[650,713],[686,642],[672,705],[696,616],[662,680],[683,732],[659,602],[679,720],
[704,615],[740,765],[716,725],[747,686],[711,747],[726,677],[743,792],[701,631],[735,754],[720,775],[745,668],[708,736],
[782,725],[774,814],[799,733],[764,823],[788,740],[756,785],[778,694],[792,806],[768,813],[750,689],[786,823],[772,681],
[846,867],[812,817],[833,768],[809,841],[829,776],[804,849],[840,766],[816,831],[847,898],[811,730],[826,850],[843,784],
[851,893],[885,821],[870,931],[895,849],[858,889],[882,800],[874,890],[899,946],[864,805],[888,927],[856,767],[878,903],
[942,950],[918,856],[900,935],[936,886],[922,970],[946,875],[912,930],[933,987],[909,831],[929,956],[904,848],[940,981],
[966,899],[997,1055],[961,912],[976,1004],[993,908],[951,964],[985,1029],[970,908],[995,1031],[958,866],[982,1004],[974,980],
[1049,983],[1014,1045],[1038,984],[1006,1050],[1028,953],[1042,1056],[1018,1068],[1000,918],[1036,1059],[1022,962],[1046,1083],[1012,943],
[1059,1006],[1079,1103],[1054,965],[1090,1099],[1066,1106],[1097,1031],[1061,1093],[1076,980],[1093,1111],[1051,1053],[1085,1017],
[1118,1060],[1131,1038],[1143,1083],[1127,1101]
];

const FONT = "'Liberation Serif','Times New Roman',serif";
const decodeR = d => 10 ** (d[0] / 1000);
const decodeE = d => 1e18 * 10 ** (d[1] / 1000);
const protonLine = lineR.map((r, i) => ({R: r, E: protonLineE[i]}));
const ironLine = lineR.map((r, i) => ({R: r, E: ironLineE[i]}));

const plot = Plot.plot({
  width: 1182, height: 1182,
  marginLeft: 177, marginRight: 119, marginTop: 118, marginBottom: 120,
  x: {type: "log", domain: xDomain},
  y: {type: "log", domain: yDomain},
  style: {fontFamily: FONT, background: "white", color: "black", overflow: "visible"},
  marks: [
    Plot.dot(ironPoints, {x: decodeR, y: decodeE, r: 1.5, fill: "#4f4f4f", clip: true}),
    Plot.dot(protonPoints, {x: decodeR, y: decodeE, r: 1.55, fill: "#000", clip: true}),
    Plot.line(protonLine, {x: "R", y: "E", stroke: seriesColors[0], strokeWidth: 4, clip: true}),
    Plot.line(ironLine, {x: "R", y: "E", stroke: seriesColors[1], strokeWidth: 4, clip: true}),
    Plot.axisX({ticks: xMinorTicks, tickSize: -13, strokeWidth: 2, fill: "none", label: null}),
    Plot.axisX({ticks: xMajorTicks, tickSize: -26, strokeWidth: 2, fill: "none", label: null}),
    Plot.axisY({ticks: yMinorTicks, tickSize: -14, strokeWidth: 2, fill: "none", label: null}),
    Plot.axisY({ticks: yMajorTicks, tickSize: -28, strokeWidth: 2, fill: "none", label: null}),
    Plot.axisX({ticks: xMajorTicks, tickFormat: d => String(d), tickSize: 0, tickPadding: 61, lineAnchor: "bottom", fontSize: 40, label: null}),
    Plot.axisY({ticks: yMajorTicks, tickFormat: () => "10", tickSize: 0, tickPadding: 39, lineAnchor: "bottom", dy: 19, fontSize: 41, label: null}),
    Plot.axisY({ticks: yMajorTicks, tickFormat: d => String(Math.round(Math.log10(d))), tickSize: 0, tickPadding: 12, lineAnchor: "bottom", dy: 1, fontSize: 28, label: null}),
    Plot.frame({stroke: "black", strokeWidth: 2})
  ]
});

const svg = d3.select(plot);
// legend
const legendRows = [{y: 232, base: 242}, {y: 302, base: 312}];
legendRows.forEach((row, i) => {
  svg.append("line").attr("x1", 195).attr("x2", 262).attr("y1", row.y).attr("y2", row.y)
    .attr("stroke", seriesColors[i]).attr("stroke-width", 4);
  svg.append("text").attr("x", 288).attr("y", row.base).attr("font-size", 55)
    .attr("text-anchor", "start").attr("font-family", FONT).attr("fill", "black").text(seriesNames[i]);
});
// y title
const yt = svg.append("text").attr("transform", "translate(65,118) rotate(-90)")
  .attr("text-anchor", "end").attr("font-size", 56).attr("font-family", FONT)
  .attr("fill", "black").style("white-space", "pre");
yt.append("tspan").text("E");
yt.append("tspan").attr("font-size", 31).attr("dy", 14).text("inv");
yt.append("tspan").attr("dy", -14).text(" [eV]");
// x title
const xt = svg.append("g").attr("text-anchor", "start").attr("font-family", FONT).attr("fill", "black");
xt.append("text").attr("x", 970).attr("y", 1163).attr("font-size", 55).text("R");
xt.append("text").attr("x", 1007).attr("y", 1135).attr("font-size", 35).text("MC");
xt.append("text").attr("x", 1008).attr("y", 1175).attr("font-size", 35).text("μ");

document.getElementById("chart").appendChild(plot);
</script>
</body></html>
